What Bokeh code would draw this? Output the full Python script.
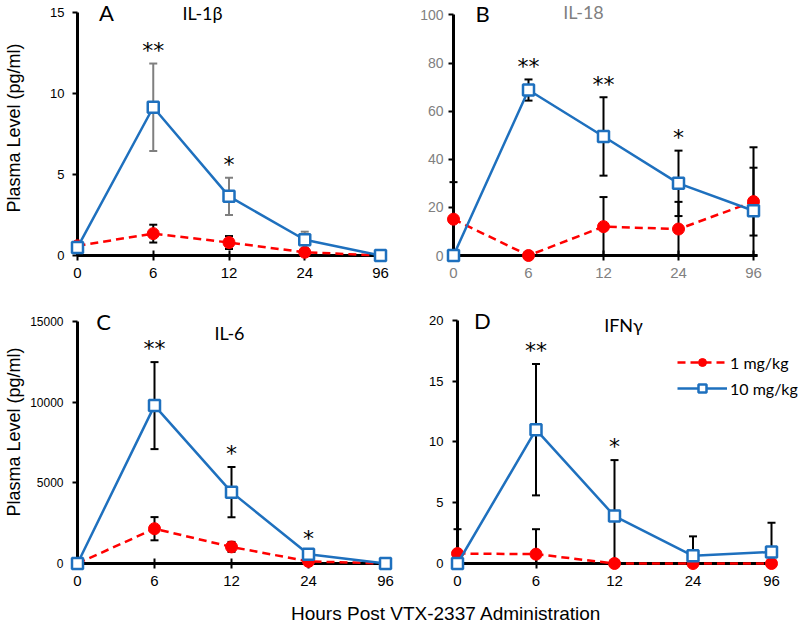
from bokeh.plotting import figure
from bokeh.models import Range1d, FixedTicker, Legend, LegendItem, Label, Div, ColumnDataSource
from bokeh.layouts import column, row
from bokeh.embed import file_html
from bokeh.resources import INLINE
from bokeh.core.properties import value

# ---------------- data ----------------
hours = ["0", "6", "12", "24", "96"]
doses = ["1 mg/kg", "10 mg/kg"]

il1b_low = [0.6, 1.35, 0.8, 0.2, 0.0]
il1b_low_err = [0.0, 0.55, 0.4, 0.0, 0.0]
il1b_high = [0.5, 9.15, 3.65, 0.97, 0.0]
il1b_high_err = [0.0, 2.7, 1.15, 0.5, 0.0]
il1b_stars = ["", "**", "*", "", ""]

il18_low = [15.1, 0.0, 12.0, 11.0, 22.4]
il18_low_err = [15.4, 0.0, 12.3, 11.3, 14.1]
il18_high = [0.0, 68.8, 49.5, 30.0, 18.6]
il18_high_err = [0.0, 4.4, 16.3, 13.6, 26.4]
il18_stars = ["", "**", "**", "*", ""]

il6_low = [0, 2160, 1030, 130, 0]
il6_low_err = [0, 720, 310, 0, 0]
il6_high = [0, 9800, 4430, 575, 0]
il6_high_err = [0, 2700, 1560, 150, 0]
il6_stars = ["", "**", "*", "*", ""]

ifn_low = [0.82, 0.77, 0.0, 0.0, 0.0]
ifn_low_err = [2.0, 2.05, 0.0, 0.0, 0.0]
ifn_high = [0.0, 11.0, 3.9, 0.63, 0.95]
ifn_high_err = [0.0, 5.4, 4.6, 1.6, 2.4]
ifn_stars = ["", "**", "*", "", ""]

RED = "#FF0000"
BLUE = "#1E70BE"
TICK_FONT = "Liberation Sans"
CAL_FONT = "Lato"
X_AXIS_END = 4.05


def build(low, low_err, high, high_err, stars, ymax, yticks, geom, scale,
          letter, letter_xy, title, title_xy, title_color,
          tick_color, ytick_size, ytick_standoff, ylabel, ylabel_standoff,
          high_err_color, legend_loc=None):
    w, h, bl, bb = geom
    px_x, px_y = scale
    frame_w = w - bl
    frame_h = h - bb
    p = figure(width=w, height=h, title=None,
               x_range=Range1d(0, frame_w / px_x), y_range=Range1d(0, frame_h / px_y),
               output_backend="svg", toolbar_location=None,
               min_border_left=bl, min_border_right=0,
               min_border_top=0, min_border_bottom=bb)
    p.outline_line_color = None
    p.grid.visible = False
    p.background_fill_color = "white"
    p.border_fill_color = "white"

    x = list(range(len(hours)))
    # axes
    p.xaxis.ticker = FixedTicker(ticks=x)
    p.xaxis.major_label_overrides = {i: lab for i, lab in enumerate(hours)}
    p.xaxis.bounds = (0, X_AXIS_END)
    p.yaxis.ticker = FixedTicker(ticks=yticks)
    p.yaxis.bounds = (0, ymax)
    for ax in (p.xaxis, p.yaxis):
        ax.axis_line_width = 3
        ax.axis_line_color = "black"
        ax.major_tick_line_width = 2
        ax.major_tick_line_color = "black"
        ax.minor_tick_line_color = None
        ax.major_label_text_font = TICK_FONT
        ax.major_label_text_color = tick_color
    p.xaxis.major_tick_in = 5
    p.xaxis.major_tick_out = 5
    p.xaxis.major_label_standoff = 7
    p.xaxis.major_label_text_font_size = "15px"
    p.yaxis.major_tick_in = 0
    p.yaxis.major_tick_out = 5
    p.yaxis.major_label_standoff = ytick_standoff
    p.yaxis.major_label_text_font_size = ytick_size
    if ylabel:
        p.yaxis.axis_label = ylabel
        p.yaxis.axis_label_text_font = TICK_FONT
        p.yaxis.axis_label_text_font_size = "18px"
        p.yaxis.axis_label_text_font_style = "normal"
        p.yaxis.axis_label_text_color = "black"
        p.yaxis.axis_label_standoff = ylabel_standoff

    # error bars
    for vals, errs, color in ((low, low_err, "black"), (high, high_err, high_err_color)):
        xs, tops, bots = [], [], []
        for i, (v, e) in enumerate(zip(vals, errs)):
            if e > 0:
                xs.append(i)
                tops.append(v + e)
                bots.append(max(v - e, 0))
        src = ColumnDataSource(dict(x=xs, top=tops, bot=bots))
        p.segment(x0="x", y0="bot", x1="x", y1="top", source=src,
                  line_color=color, line_width=2, level="overlay")
        p.scatter(x="x", y="top", source=src, marker="dash", size=8,
                  line_color=color, line_width=2, level="overlay")
        p.scatter(x="x", y="bot", source=src, marker="dash", size=8,
                  line_color=color, line_width=2, level="overlay")

    # series
    rl = p.line(x, low, line_color=RED, line_width=2.5, line_dash="8 5", level="overlay")
    rc = p.scatter(x, low, marker="circle", size=12, fill_color=RED, line_color=RED,
                   level="overlay")
    bln = p.line(x, high, line_color=BLUE, line_width=2.5, level="overlay")
    bsq = p.scatter(x, high, marker="square", size=11, fill_color="white",
                    line_color=BLUE, line_width=2.5, level="overlay")

    # significance stars
    sx, sy, st = [], [], []
    for i, s in enumerate(stars):
        if s:
            top = max(low[i] + low_err[i], high[i] + high_err[i])
            sx.append(i)
            sy.append(top + 0.075 * ymax)
            st.append(s)
    ssrc = ColumnDataSource(dict(x=sx, y=sy, t=st))
    p.text(x="x", y="y", text="t", source=ssrc, text_font=value("DejaVu Sans"),
           text_font_size="22px", text_align="center", text_baseline="alphabetic",
           y_offset=5, text_color="black", level="overlay")

    # panel letter and title
    p.add_layout(Label(x=letter_xy[0], y=letter_xy[1], text=letter, text_font=CAL_FONT,
                       text_font_size="22px", text_align="center", text_baseline="middle",
                       text_color="black"))
    p.add_layout(Label(x=title_xy[0], y=title_xy[1], text=title, text_font=CAL_FONT,
                       text_font_size="18px", text_align="center", text_baseline="middle",
                       text_color=title_color))

    if legend_loc is not None:
        legend = Legend(items=[LegendItem(label=doses[0], renderers=[rl, rc]),
                               LegendItem(label=doses[1], renderers=[bln, bsq])],
                        location=legend_loc)
        legend.border_line_color = None
        legend.background_fill_alpha = 0
        legend.padding = 0
        legend.margin = 0
        legend.spacing = 6
        legend.glyph_width = 50
        legend.glyph_height = 20
        legend.label_height = 20
        legend.label_standoff = 3
        legend.label_text_font = CAL_FONT
        legend.label_text_font_size = "16px"
        legend.label_text_color = "black"
        p.add_layout(legend)
    return p


pA = build(il1b_low, il1b_low_err, il1b_high, il1b_high_err, il1b_stars, 15, [0, 5, 10, 15],
           (400, 300, 77, 45), (75.75, 16.2),
           "A", (0.383, 14.97), "IL-1β", (1.65, 15.0), "black",
           "black", "13px", 8, "Plasma Level (pg/ml)", 23, "#7F7F7F")
pB = build(il18_low, il18_low_err, il18_high, il18_high_err, il18_stars, 100,
           [0, 20, 40, 60, 80, 100],
           (398, 300, 53, 43), (75.0, 2.424),
           "B", (0.387, 100.5), "IL-18", (1.733, 101.4), "#808080",
           "#808080", "14px", 5, None, 0, "black")
pC = build(il6_low, il6_low_err, il6_high, il6_high_err, il6_stars, 15000,
           [0, 5000, 10000, 15000],
           (400, 305, 77, 41), (77.0, 0.016173),
           "C", (0.338, 15044), "IL-6", (1.974, 14302), "black",
           "black", "12px", 9, "Plasma Level (pg/ml)", 3, "black")
pD = build(ifn_low, ifn_low_err, ifn_high, ifn_high_err, ifn_stars, 20, [0, 5, 10, 15, 20],
           (398, 305, 57, 42), (78.5, 12.165),
           "D", (0.318, 20.0), "IFNγ", (2.115, 19.59), "black",
           "black", "13px", 9, None, 0, "black", legend_loc=(220, 165))

xtitle = Div(text='<div style="margin-left:291px; font-family:\'Liberation Sans\', Arial, sans-serif; '
                  'font-size:19px; line-height:18px; color:black; white-space:nowrap;">'
                  'Hours Post VTX-2337 Administration</div>',
             width=798, height=18, margin=(0, 0, 0, 0))

layout = column(row(pA, pB), row(pC, pD), xtitle)

open("out.html", "w").write(file_html(layout, INLINE))
